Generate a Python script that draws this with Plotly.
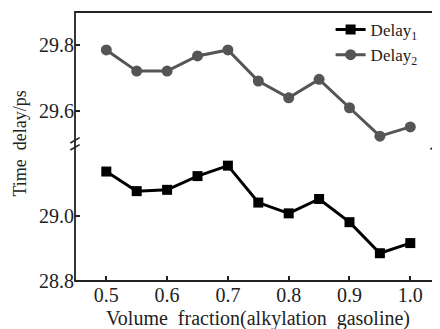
import plotly.graph_objects as go

x_vals = [0.5, 0.55, 0.6, 0.65, 0.7, 0.75, 0.8, 0.85, 0.9, 0.95, 1.0]
delay1 = [29.135, 29.075, 29.079, 29.121, 29.153, 29.040, 29.007, 29.051, 28.980, 28.885, 28.916]
delay2 = [29.785, 29.721, 29.721, 29.767, 29.785, 29.691, 29.640, 29.696, 29.610, 29.524, 29.552]
x_ticks = [0.5, 0.6, 0.7, 0.8, 0.9, 1.0]
x_tick_text = ["0.5", "0.6", "0.7", "0.8", "0.9", "1.0"]
low_ticks = [28.8, 29.0]
high_ticks = [29.6, 29.8]

FONT = "Liberation Serif"
split = 0.509

fig = go.Figure()
fig.add_trace(go.Scatter(x=x_vals, y=delay1, mode="lines+markers", name="Delay<sub>1</sub>",
                         line=dict(color="#000000", width=3),
                         marker=dict(symbol="square", size=10, color="#000000"),
                         xaxis="x", yaxis="y"))
fig.add_trace(go.Scatter(x=x_vals, y=delay2, mode="lines+markers", name="Delay<sub>2</sub>",
                         line=dict(color="#555555", width=3),
                         marker=dict(symbol="circle", size=11, color="#555555"),
                         xaxis="x", yaxis="y2"))

axfont = dict(family=FONT, size=20, color="#222222")
# page body has an 8px margin; figure sized/margined so the plot lands where the reference has it
fig.update_layout(
    width=432, height=321,
    margin=dict(l=67, r=6, t=4, b=48),
    paper_bgcolor="white", plot_bgcolor="white",
    font=dict(family=FONT, color="#222222"),
    showlegend=True,
    legend=dict(x=0.712, y=1.0, xanchor="left", yanchor="top",
                bgcolor="rgba(0,0,0,0)", font=dict(family=FONT, size=17, color="#222222"),
                tracegroupgap=0, itemwidth=30),
    xaxis=dict(range=[0.4485, 1.039], tickvals=x_ticks, ticktext=x_tick_text,
               ticks="inside", ticklen=5, tickwidth=1.5, tickcolor="#222222",
               showgrid=False, zeroline=False, showline=False, automargin=False,
               tickfont=axfont, anchor="y"),
    yaxis=dict(domain=[0, split], range=[28.8, 29.219], tickvals=low_ticks,
               ticktext=["28.8", "29.0"], automargin=False,
               ticks="inside", ticklen=5, tickwidth=1.5, tickcolor="#222222",
               showgrid=False, zeroline=False, showline=False, tickfont=axfont, anchor="x"),
    yaxis2=dict(domain=[split, 1], range=[29.5, 29.9], tickvals=high_ticks,
                ticktext=["29.6", "29.8"], automargin=False,
                ticks="inside", ticklen=5, tickwidth=1.5, tickcolor="#222222",
                showgrid=False, zeroline=False, showline=False, tickfont=axfont, anchor="x"),
)

# frame
fig.add_shape(type="rect", xref="paper", yref="paper", x0=0, x1=1, y0=0, y1=1,
              line=dict(color="#222222", width=1.8), fillcolor="rgba(0,0,0,0)")
# break marks (left axis): two slanted strokes
for dy in [-0.012, 0.014]:
    fig.add_shape(type="line", xref="paper", yref="paper",
                  x0=-0.013, x1=0.013, y0=split + dy - 0.010, y1=split + dy + 0.010,
                  line=dict(color="#222222", width=1.6))
# right axis break
fig.add_shape(type="line", xref="paper", yref="paper",
              x0=0.99, x1=1.01, y0=split - 0.02, y1=split + 0.0,
              line=dict(color="#222222", width=1.6))

fig.add_annotation(text="Time\u00a0\u00a0delay/ps", xref="paper", yref="paper", x=-0.154, y=0.51,
                   textangle=-90, showarrow=False, xanchor="center", yanchor="middle",
                   font=dict(family=FONT, size=18, color="#222222"))
fig.add_annotation(text="Volume\u00a0\u00a0fraction(alkylation\u00a0\u00a0gasoline)",
                   xref="paper", yref="paper", x=0.51, y=-0.138,
                   showarrow=False, xanchor="center", yanchor="middle",
                   font=dict(family=FONT, size=20, color="#222222"))

fig.write_html("out.html")
